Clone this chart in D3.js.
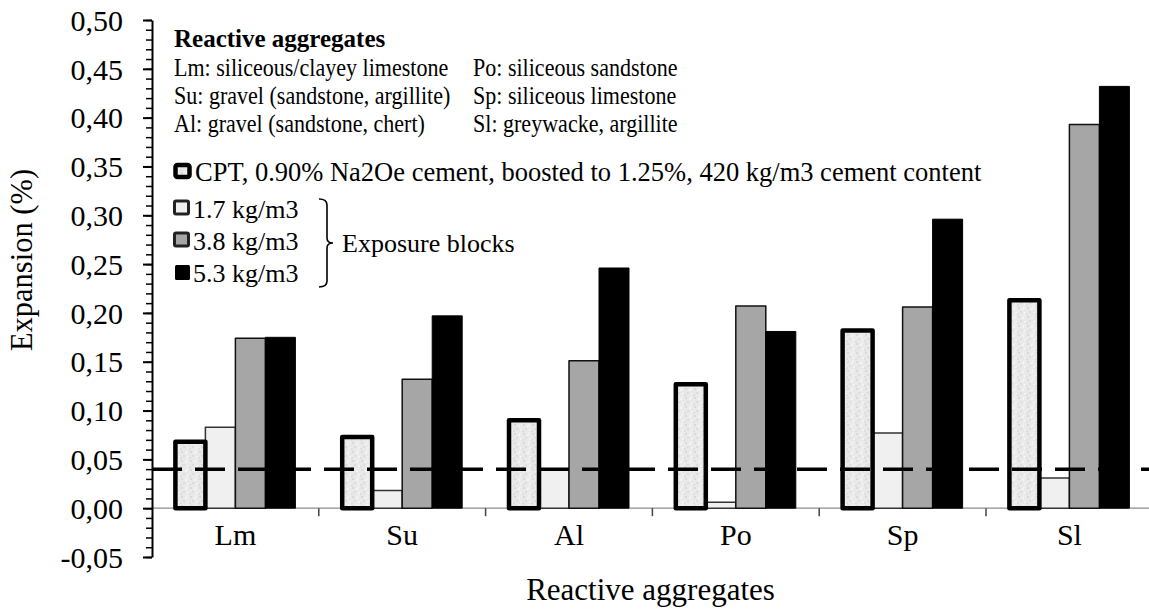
<!DOCTYPE html>
<html>
<head>
<meta charset="utf-8">
<script src="https://cdn.jsdelivr.net/npm/d3@7"></script>
<style>
  body { margin: 0; background: #fff; }
  text { font-family: "Liberation Serif", "Times New Roman", serif; fill: #000; }
</style>
</head>
<body>
<div id="chart"></div>
<script>
// aggregates and test series
var categories = ["Lm", "Su", "Al", "Po", "Sp", "Sl"];
var seriesNames = ["CPT", "1.7 kg/m3", "3.8 kg/m3", "5.3 kg/m3"];
var cptValues = [0.068, 0.073, 0.090, 0.127, 0.182, 0.213];
var block17 = [0.083, 0.018, 0.040, 0.006, 0.077, 0.031];
var block38 = [0.174, 0.132, 0.151, 0.207, 0.206, 0.393];
var block53 = [0.175, 0.197, 0.246, 0.181, 0.296, 0.432];
var limitValue = 0.04;
var yMajor = [-0.05, 0, 0.05, 0.10, 0.15, 0.20, 0.25, 0.30, 0.35, 0.40, 0.45, 0.50];

var aggText = [
  ["Lm: siliceous/clayey limestone", "Po: siliceous sandstone"],
  ["Su: gravel (sandstone, argillite)", "Sp: siliceous limestone"],
  ["Al: gravel (sandstone, chert)", "Sl: greywacke, argillite"]
];
var cptLabel = "CPT, 0.90% Na2Oe cement, boosted to 1.25%, 420 kg/m3 cement content";

function drawChart() {
    var width = 1149, height = 610;
    var left = 152, top = 20, bottom = 557;
    var step = 166.8;

    var svg = d3.select('#chart')
        .append('svg')
        .attr('width', width)
        .attr('height', height);

    // speckled fill for the CPT bars
    var defs = svg.append('defs');
    var pat = defs.append('pattern')
        .attr('id', 'speckle')
        .attr('patternUnits', 'userSpaceOnUse')
        .attr('width', 9).attr('height', 9);
    pat.append('rect').attr('width', 9).attr('height', 9).attr('fill', '#e9e9e9');
    [[1, 1, '#d9d9d9'], [5, 2, '#f4f4f4'], [3, 5, '#dcdcdc'], [7, 6, '#f2f2f2'], [0, 7, '#dedede'], [6, 0, '#efefef']]
        .forEach(function (p) {
            pat.append('rect').attr('x', p[0]).attr('y', p[1])
                .attr('width', 2).attr('height', 2).attr('fill', p[2]);
        });

    var x = d3.scaleBand()
        .domain(categories)
        .range([left, left + step * categories.length]);

    var xs = d3.scaleBand()
        .domain(seriesNames)
        .range([0, x.bandwidth()])
        .paddingOuter(0.78);

    var y = d3.scaleLinear()
        .domain([-0.05, 0.5])
        .range([bottom, top]);

    var values = [cptValues, block17, block38, block53];
    var fills = ['url(#speckle)', '#f0f0f0', '#a6a6a6', '#000'];
    var strokes = ['#000', '#333', '#111', '#000'];
    var strokeW = [4.5, 1.5, 1.5, 1];

    // x baseline
    svg.append('line')
        .attr('x1', left).attr('x2', width)
        .attr('y1', y(0)).attr('y2', y(0))
        .attr('stroke', '#8c8c8c').attr('stroke-width', 1.2);

    // category boundary ticks
    svg.selectAll('.xtick')
        .data(categories.slice(1))
        .enter()
        .append('line')
        .attr('class', 'xtick')
        .attr('x1', function (d) { return x(d); })
        .attr('x2', function (d) { return x(d); })
        .attr('y1', y(0)).attr('y2', y(0) + 8)
        .attr('stroke', '#444').attr('stroke-width', 1.5);

    // bars, CPT drawn last so its thick border sits on top
    var order = [1, 2, 3, 0];
    order.forEach(function (s) {
        svg.selectAll('.bar' + s)
            .data(categories)
            .enter()
            .append('rect')
            .attr('class', 'bar' + s)
            .attr('x', function (d) { return x(d) + xs(seriesNames[s]); })
            .attr('width', xs.bandwidth())
            .attr('y', function (d, i) { return y(values[s][i]); })
            .attr('height', function (d, i) { return y(0) - y(values[s][i]); })
            .attr('fill', fills[s])
            .attr('stroke', strokes[s])
            .attr('stroke-width', strokeW[s])
            .attr('stroke-linejoin', 'round');
    });

    // limit line
    svg.append('line')
        .attr('x1', left).attr('x2', width)
        .attr('y1', y(limitValue)).attr('y2', y(limitValue))
        .attr('stroke', '#000').attr('stroke-width', 3.5)
        .attr('stroke-dasharray', '30,13');

    // y axis, minor then major
    var minor = d3.range(-5, 51).map(function (k) { return k / 100; });
    svg.append('g')
        .attr('transform', 'translate(' + left + ',0)')
        .call(d3.axisLeft(y).tickValues(minor).tickSize(6).tickFormat(''))
        .call(function (g) {
            g.select('.domain').remove();
            g.selectAll('line').attr('stroke-width', 1.5);
        });

    svg.append('g')
        .attr('transform', 'translate(' + left + ',0)')
        .call(d3.axisLeft(y).tickValues(yMajor).tickSize(9).tickPadding(20)
            .tickSizeOuter(0)
            .tickFormat(function (d) { return d3.format('.2f')(d).replace('.', ',').replace('−', '-'); }))
        .call(function (g) {
            g.select('.domain').attr('stroke-width', 2);
            g.selectAll('line').attr('stroke-width', 2);
            g.selectAll('text')
                .style('font-size', '30px')
                .attr('dy', '0.34em');
        });

    // category labels
    svg.selectAll('.catLabel')
        .data(categories)
        .enter()
        .append('text')
        .attr('class', 'catLabel')
        .attr('x', function (d) { return x(d) + x.bandwidth() / 2; })
        .attr('y', 545)
        .attr('text-anchor', 'middle')
        .style('font-size', '30px')
        .text(function (d) { return d; });

    // axis titles
    svg.append('text')
        .attr('x', (left + width) / 2)
        .attr('y', 600)
        .attr('text-anchor', 'middle')
        .style('font-size', '31px')
        .text('Reactive aggregates');

    svg.append('text')
        .attr('transform', 'translate(32,260) rotate(-90)')
        .attr('text-anchor', 'middle')
        .style('font-size', '30.5px')
        .text('Expansion (%)');

    // aggregate legend
    svg.append('text')
        .attr('x', 174).attr('y', 47)
        .style('font-size', '25px')
        .style('font-weight', 'bold')
        .text('Reactive aggregates');

    // the list is set a bit condensed, as in the original figure
    aggText.forEach(function (row, i) {
        row.forEach(function (t, j) {
            svg.append('text')
                .attr('transform', 'translate(' + (j === 0 ? 174 : 473) + ',' + (76 + i * 28) + ') scale(0.9,1)')
                .style('font-size', '24.5px')
                .text(t);
        });
    });

    // series legend
    var legRows = [181, 218, 250, 282];
    var legG = svg.append('g');
    // CPT swatch
    legG.append('rect')
        .attr('x', 175.5).attr('y', legRows[0] - 16)
        .attr('width', 14).attr('height', 12)
        .attr('fill', 'url(#speckle)').attr('stroke', '#000').attr('stroke-width', 4.5)
        .attr('rx', 2);
    legG.append('text')
        .attr('x', 195).attr('y', legRows[0])
        .style('font-size', '26.5px')
        .text(cptLabel);

    [1, 2, 3].forEach(function (s) {
        var yy = legRows[s];
        legG.append('rect')
            .attr('x', s === 3 ? 175 : 174.5).attr('y', yy - 17)
            .attr('width', s === 3 ? 15 : 14).attr('height', s === 3 ? 15 : 13)
            .attr('fill', fills[s])
            .attr('stroke', s === 3 ? 'none' : '#222')
            .attr('stroke-width', 3)
            .attr('rx', 1.5);
        legG.append('text')
            .attr('x', 193).attr('y', yy)
            .style('font-size', '26px')
            .text(seriesNames[s]);
    });

    // brace
    var bx = 327;
    var braceTop = legRows[1] - 19, braceBot = legRows[3] + 5, braceMid = (braceTop + braceBot) / 2;
    legG.append('path')
        .attr('d', 'M' + (bx - 8) + ',' + braceTop + ' Q' + bx + ',' + braceTop + ' ' + bx + ',' + (braceTop + 6) +
            ' L' + bx + ',' + (braceMid - 5) + ' Q' + bx + ',' + braceMid + ' ' + (bx + 6) + ',' + braceMid +
            ' Q' + bx + ',' + braceMid + ' ' + bx + ',' + (braceMid + 5) +
            ' L' + bx + ',' + (braceBot - 6) + ' Q' + bx + ',' + braceBot + ' ' + (bx - 8) + ',' + braceBot)
        .attr('fill', 'none').attr('stroke', '#000').attr('stroke-width', 1.6);
    legG.append('text')
        .attr('x', bx + 15).attr('y', braceMid + 9)
        .style('font-size', '26px')
        .text('Exposure blocks');
}

window.onload = drawChart();
</script>
</body>
</html>
